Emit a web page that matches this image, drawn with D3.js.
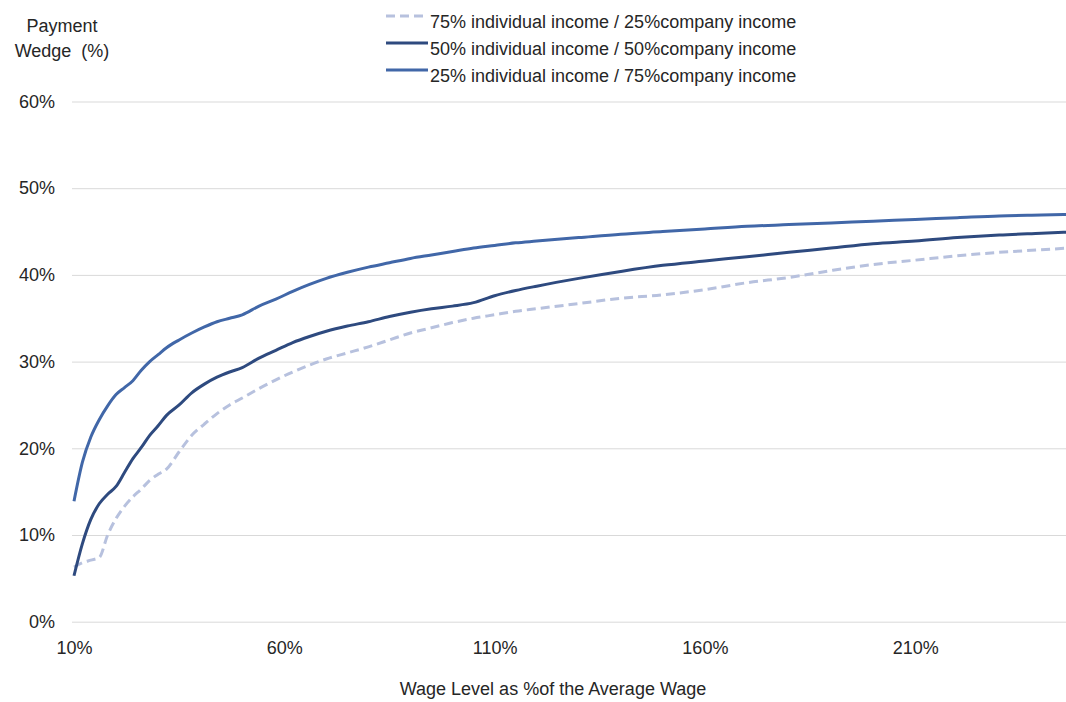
<!DOCTYPE html>
<html>
<head>
<meta charset="utf-8">
<script src="https://cdn.jsdelivr.net/npm/d3@7"></script>
<style>
  html, body { margin: 0; padding: 0; background: #fff; }
  svg { display: block; font-family: "Liberation Sans", Arial, sans-serif; }
</style>
</head>
<body>
<svg id="chart" width="1066" height="702"></svg>
<script>
// Wage level (% of the average wage) at which the payment wedge is evaluated
const wageLevels = [10, 12, 14, 16, 18, 20, 22, 24, 26, 28, 30, 32, 35, 38, 41, 44, 47, 50, 54, 58,
  62, 66, 70, 75, 80, 85, 90, 95, 100, 105, 110, 115, 120, 130, 140, 150, 160, 170, 180, 190,
  200, 210, 220, 230, 240, 250];

// Payment wedge (%) for each income split
const wedge75_25 = [6.3, 6.8, 7.1, 7.4, 10.0, 11.9, 13.3, 14.4, 15.3, 16.3, 17.0, 17.6, 19.6, 21.5, 22.8, 24.0, 25.0, 25.8, 26.9, 27.9,
  28.8, 29.6, 30.3, 31.0, 31.7, 32.5, 33.3, 33.9, 34.5, 35.0, 35.4, 35.8, 36.1, 36.7, 37.3, 37.7, 38.3, 39.1, 39.7, 40.5,
  41.2, 41.7, 42.2, 42.6, 42.9, 43.2];
const wedge50_50 = [5.3, 9.0, 11.8, 13.6, 14.7, 15.6, 17.2, 18.8, 20.1, 21.5, 22.6, 23.8, 25.0, 26.4, 27.4, 28.2, 28.8, 29.3, 30.4, 31.3,
  32.2, 32.9, 33.5, 34.1, 34.6, 35.2, 35.7, 36.1, 36.4, 36.8, 37.6, 38.2, 38.7, 39.6, 40.4, 41.1, 41.6, 42.1, 42.6, 43.1,
  43.6, 43.9, 44.3, 44.6, 44.8, 45.0];
const wedge25_75 = [13.9, 18.4, 21.3, 23.3, 24.9, 26.2, 27.0, 27.8, 29.0, 30.0, 30.8, 31.6, 32.5, 33.3, 34.0, 34.6, 35.0, 35.4, 36.4, 37.2,
  38.1, 38.9, 39.6, 40.3, 40.9, 41.4, 41.9, 42.3, 42.7, 43.1, 43.4, 43.7, 43.9, 44.3, 44.7, 45.0, 45.3, 45.6, 45.8, 46.0,
  46.2, 46.4, 46.6, 46.8, 46.9, 47.0];

const seriesNames = [
  "75% individual income / 25%company income",
  "50% individual income / 50%company income",
  "25% individual income / 75%company income"
];

const yTicks = [0, 10, 20, 30, 40, 50, 60];
const xTicks = [10, 60, 110, 160, 210];

const series = [
  { name: seriesNames[0], values: wedge75_25, color: "#b7c1de", dash: "9,5" },
  { name: seriesNames[1], values: wedge50_50, color: "#2e4a7f", dash: null },
  { name: seriesNames[2], values: wedge25_75, color: "#4167a8", dash: null }
];

const svg = d3.select("#chart");
const textColor = "#262626";

const x = d3.scaleLinear().domain([10, 250]).range([74, 1083.4]);
const y = d3.scaleLinear().domain([0, 60]).range([621.7, 101.5]);

// Horizontal gridlines
svg.append("g")
  .attr("transform", "translate(72,0)")
  .call(d3.axisRight(y).tickValues(yTicks).tickSize(1100).tickFormat(""))
  .call(g => g.select(".domain").remove())
  .call(g => g.selectAll("line").attr("stroke", "#d9d9d9").attr("stroke-width", 1));

// Y axis labels
svg.append("g")
  .attr("transform", "translate(72,0)")
  .call(d3.axisLeft(y).tickValues(yTicks).tickSize(0).tickPadding(17).tickFormat(d => d + "%"))
  .call(g => g.select(".domain").remove())
  .call(g => g.selectAll("text")
    .attr("fill", textColor).style("font-size", "18px")
    .style("font-family", "'Liberation Sans', Arial, sans-serif"));

// X axis labels
svg.append("g")
  .attr("transform", `translate(0,${y(0)})`)
  .call(d3.axisBottom(x).tickValues(xTicks).tickSize(0).tickPadding(20).tickFormat(d => d + "%"))
  .call(g => g.select(".domain").remove())
  .call(g => g.selectAll("text")
    .attr("fill", textColor).style("font-size", "18px")
    .style("font-family", "'Liberation Sans', Arial, sans-serif"));

// Series lines
const line = d3.line()
  .x((d, i) => x(wageLevels[i]))
  .y(d => y(d))
  .curve(d3.curveMonotoneX);

svg.append("g").selectAll("path")
  .data(series)
  .join("path")
  .attr("d", d => line(d.values))
  .attr("fill", "none")
  .attr("stroke", d => d.color)
  .attr("stroke-width", 3)
  .attr("stroke-linejoin", "round")
  .attr("stroke-dasharray", d => d.dash);

// Y axis title
const yTitle = svg.append("text")
  .attr("fill", textColor)
  .style("font-size", "18px")
  .attr("text-anchor", "middle");
yTitle.append("tspan").attr("x", 62).attr("y", 32).text("Payment");
yTitle.append("tspan").attr("x", 62).attr("y", 57).attr("xml:space", "preserve").text("Wedge  (%)");

// X axis title
svg.append("text")
  .attr("x", 553).attr("y", 695)
  .attr("text-anchor", "middle")
  .attr("fill", textColor)
  .style("font-size", "18px")
  .text("Wage Level as %of the Average Wage");

// Legend
const legend = svg.append("g").selectAll("g")
  .data(series)
  .join("g")
  .attr("transform", (d, i) => `translate(386,${16 + i * 27})`);

legend.append("line")
  .attr("x1", 0).attr("x2", 42)
  .attr("stroke", d => d.color)
  .attr("stroke-width", 3)
  .attr("stroke-dasharray", d => d.dash);

legend.append("text")
  .attr("x", 44).attr("y", 12)
  .attr("fill", textColor)
  .style("font-size", "18px")
  .text(d => d.name);
</script>
</body>
</html>
